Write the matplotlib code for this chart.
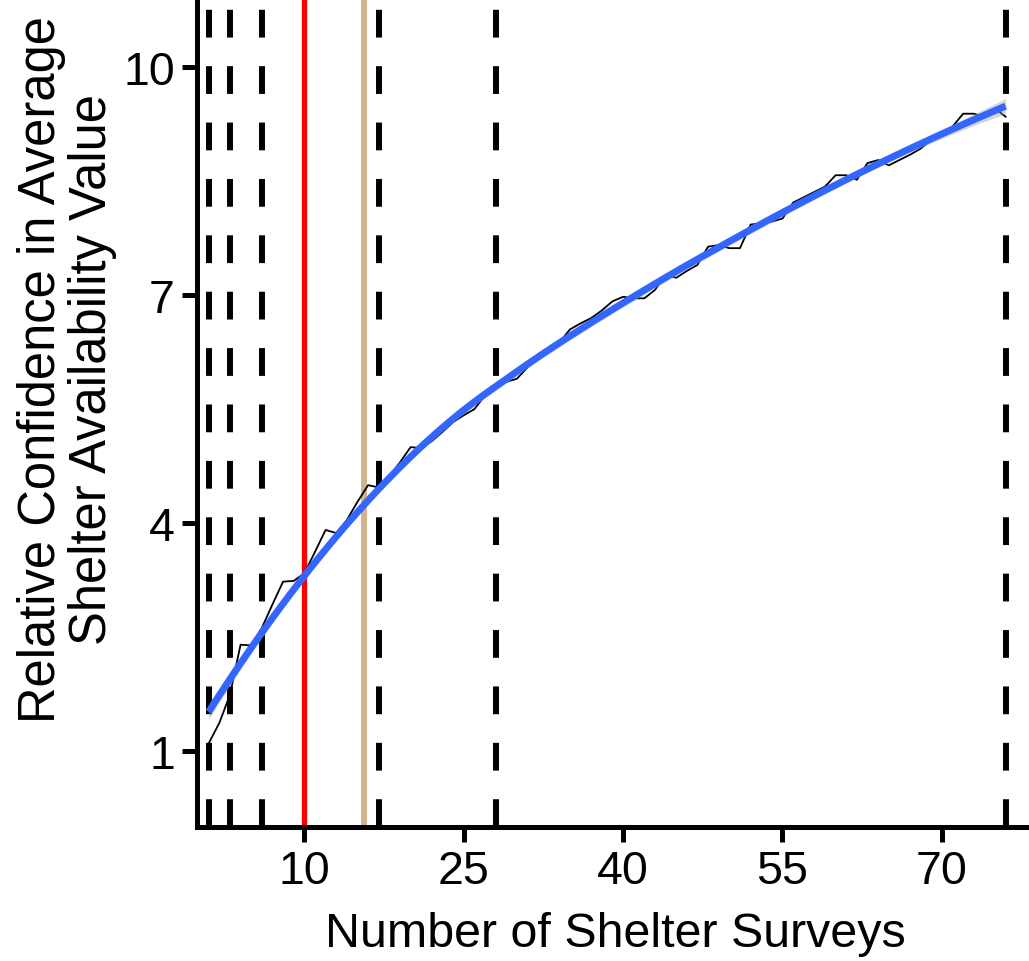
import numpy as np
import matplotlib
matplotlib.use("Agg")
import matplotlib.pyplot as plt

plt.rcParams['font.family'] = ['Liberation Sans', 'DejaVu Sans']

# Relative confidence for each number of surveys (1..76)
surveys = np.arange(1, 77)
confidence = [
    1.10, 1.37, 1.74, 2.40, 2.39, 2.62, 2.93, 3.23, 3.24, 3.34,
    3.62, 3.91, 3.87, 4.04, 4.28, 4.50, 4.47, 4.62, 4.80, 5.00,
    4.99, 5.08, 5.20, 5.33, 5.42, 5.50, 5.68, 5.82, 5.86, 5.90,
    6.05, 6.17, 6.26, 6.38, 6.55, 6.63, 6.70, 6.80, 6.92, 6.98,
    6.96, 6.96, 7.07, 7.27, 7.23, 7.32, 7.40, 7.64, 7.66, 7.62,
    7.62, 7.93, 7.95, 7.97, 8.01, 8.22, 8.29, 8.36, 8.43, 8.58,
    8.58, 8.52, 8.74, 8.78, 8.71, 8.78, 8.85, 8.93, 9.05, 9.13,
    9.22, 9.39, 9.39, 9.35, 9.46, 9.35,
]

# Reference survey counts
dashed_marks = [1, 3, 6, 17, 28, 76]
red_mark = 10
tan_mark = 15.6

x_ticks = [10, 25, 40, 55, 70]
y_ticks = [1, 4, 7, 10]


def loess(x, y, xs, span=0.75):
    """Local quadratic regression with tricube weights, plus standard errors."""
    x = np.asarray(x, float)
    y = np.asarray(y, float)
    n = len(x)
    q = int(np.floor(n * span))

    def weights_row(x0):
        d = np.abs(x - x0)
        dmax = np.sort(d)[q - 1]
        u = np.clip(d / dmax, 0, 1)
        w = (1 - u ** 3) ** 3
        X = np.column_stack([np.ones(n), x - x0, (x - x0) ** 2])
        W = np.diag(w)
        A = X.T @ W @ X
        return (np.linalg.solve(A, X.T @ W))[0]

    L = np.array([weights_row(x0) for x0 in x])
    resid = y - L @ y
    M = np.eye(n) - L
    MtM = M.T @ M
    delta1 = np.trace(MtM)
    delta2 = np.trace(MtM @ MtM)
    sigma = np.sqrt(np.sum(resid ** 2) / delta1)
    df = delta1 ** 2 / delta2
    rows = np.array([weights_row(x0) for x0 in xs])
    fit = rows @ y
    se = sigma * np.sqrt(np.sum(rows ** 2, axis=1))
    tval = 1.99 if df > 60 else 2.0
    return fit, se * tval


xs = np.linspace(surveys.min(), surveys.max(), 80)
fit, half = loess(surveys, confidence, xs)

W, H = 1029, 962
fig = plt.figure(figsize=(W / 100, H / 100), dpi=100)
ax = fig.add_axes([197 / W, 1 - 828 / H, 1 - 197 / W, 828 / H])

lw_dash = 4.3
for xv in dashed_marks:
    ax.axvline(xv, color='black', linewidth=lw_dash,
               dashes=(20 / lw_dash, 20.6 / lw_dash), zorder=1)
ax.axvline(red_mark, color='#FF0000', linewidth=3.8, zorder=1)
ax.axvline(tan_mark, color='#D2B48C', linewidth=4.3, zorder=1)

ax.plot(surveys, confidence, color='black', linewidth=1.3, zorder=2)
ax.fill_between(xs, fit - half, fit + half, color='#999999', alpha=0.4,
                linewidth=0, zorder=3)
ax.plot(xs, fit, color='#3366FF', linewidth=5.0, zorder=4,
        solid_capstyle='butt')

ax.set_xlim(-0.1, 78.2)
ax.set_ylim(0.0, 10.9)
ax.set_xticks(x_ticks)
ax.set_yticks(y_ticks)
ax.set_xticklabels([str(v) for v in x_ticks])
ax.set_yticklabels([str(v) for v in y_ticks])

for side in ('top', 'right'):
    ax.spines[side].set_visible(False)
for side in ('left', 'bottom'):
    ax.spines[side].set_linewidth(3.6)
    ax.spines[side].set_capstyle('projecting')

ax.tick_params(axis='both', length=11, width=3.6, labelsize=33.5,
               colors='black', pad=5)

fig.text(67 / W, 1 - 370 / H,
         'Relative Confidence in Average\nShelter Availability Value',
         rotation=90, ha='center', va='center', multialignment='center',
         fontsize=36.5, linespacing=1.05)
fig.text(615 / W, 1 - 935 / H, 'Number of Shelter Surveys',
         ha='center', va='center', fontsize=34.8)

fig.savefig('out.png', dpi=100)
